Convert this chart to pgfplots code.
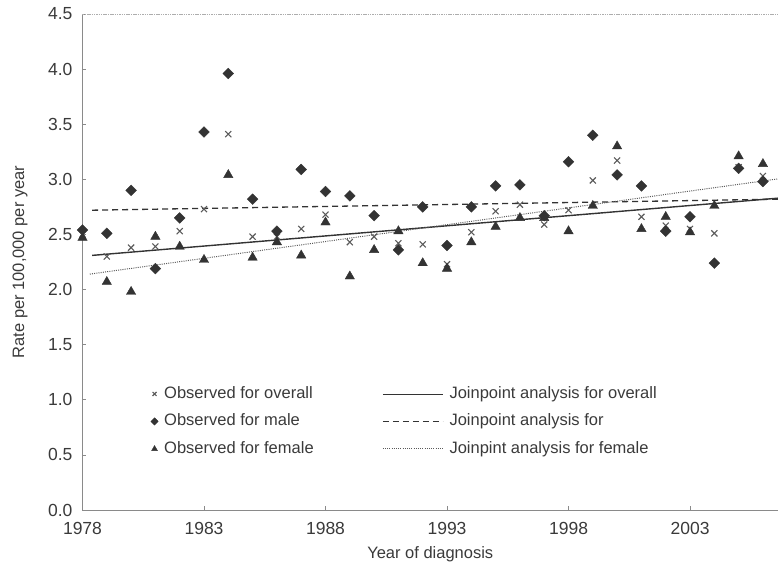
\documentclass[border=0pt]{standalone}
\usepackage{fontspec}
\setmainfont{Liberation Sans}
\usepackage{pgfplots}
\usepackage{pgfplotstable}
\pgfplotsset{compat=1.18}
\definecolor{ink}{HTML}{3A3A3A}
\definecolor{markdark}{HTML}{333333}
\definecolor{markgray}{HTML}{5A5A5A}
\definecolor{axisgray}{HTML}{8A8A8A}

\pgfplotsset{
  markleg/.style={legend image code/.code={\draw[##1, mark size=#1] plot coordinates {(0bp,0bp)};}},
  lineleg/.style={legend image code/.code={\draw[##1, #1] (0bp,0bp) -- (60bp,0bp);}},
}

\pgfplotstableread{
year overall male female
1978 2.50 2.54 2.47
1979 2.30 2.51 2.07
1980 2.38 2.90 1.98
1981 2.39 2.19 2.48
1982 2.53 2.65 2.39
1983 2.73 3.43 2.27
1984 3.41 3.96 3.04
1985 2.48 2.82 2.29
1986 2.48 2.53 2.43
1987 2.55 3.09 2.31
1988 2.68 2.89 2.61
1989 2.43 2.85 2.12
1990 2.48 2.67 2.36
1991 2.42 2.36 2.53
1992 2.41 2.75 2.24
1993 2.23 2.40 2.19
1994 2.52 2.75 2.43
1995 2.71 2.94 2.57
1996 2.77 2.95 2.65
1997 2.59 2.67 2.65
1998 2.72 3.16 2.53
1999 2.99 3.40 2.76
2000 3.17 3.04 3.30
2001 2.66 2.94 2.55
2002 2.58 2.53 2.66
2003 2.55 2.66 2.52
2004 2.51 2.24 2.76
2005 3.11 3.10 3.21
2006 3.03 2.98 3.14
}\rates

\begin{document}
\begin{tikzpicture}
\begin{axis}[
  scale only axis,
  width=695.5bp, height=496bp,
  xmin=1978, xmax=2006.62,
  ymin=0, ymax=4.5,
  clip=false,
  axis x line*=bottom,
  axis y line*=left,
  axis line style={axisgray, line width=0.8bp},
  xtick={1978,1983,1988,1993,1998,2003},
  xticklabels={1978,1983,1988,1993,1998,2003},
  ytick={0,0.5,1,1.5,2,2.5,3,3.5,4,4.5},
  yticklabels={0.0,0.5,1.0,1.5,2.0,2.5,3.0,3.5,4.0,4.5},
  x tick style={axisgray, line width=0.6bp},
  y tick style={axisgray, line width=0.6bp},
  major tick length=4bp,
  tick align=inside,
  tick label style={font=\fontsize{17.5bp}{20bp}\selectfont, text=ink},
  xticklabel style={yshift=-9bp},
  yticklabel style={xshift=-6.5bp},
  xlabel={Year of diagnosis},
  ylabel={Rate per 100,000 per year},
  label style={font=\fontsize{16.5bp}{19bp}\selectfont, text=ink},
  xlabel style={at={(axis description cs:0.5,0)}, anchor=center, yshift=-44bp},
  ylabel style={at={(axis description cs:0,0.5)}, anchor=center, yshift=62.5bp},
  legend columns=3,
  transpose legend,
  legend cell align=left,
  legend style={
    draw=none, fill=none,
    at={(rel axis cs:0.098,0.25)}, anchor=north west,
    font=\fontsize{16.5bp}{19bp}\selectfont,
    text=ink,
    inner sep=0pt,
    column sep=6bp,
    row sep=12bp,
    nodes={inner sep=0pt, text height=12bp, text depth=3.5bp},
  },
]
\draw[axisgray!70, line width=0.8bp, dash pattern=on 1.5bp off 0.8bp]
  (rel axis cs:0,1) -- (rel axis cs:1,1);

\addplot[only marks, mark=x, mark size=4.3bp, draw=markgray, line width=1.1bp, markleg=2.8bp]
  table[x=year, y=overall] {\rates};
\addlegendentry{\makebox[212bp][l]{Observed for overall}}

\addplot[only marks, mark=square*, mark options={rotate=45}, mark size=3.8bp,
  draw=markdark, fill=markdark, markleg=2.6bp]
  table[x=year, y=male] {\rates};
\addlegendentry{\makebox[212bp][l]{Observed for male}}

\addplot[only marks, mark=triangle*, mark size=5.4bp, draw=markdark, fill=markdark, markleg=3.4bp]
  table[x=year, y=female] {\rates};
\addlegendentry{\makebox[212bp][l]{Observed for female}}

\addplot[markdark, line width=1.4bp, no marks, lineleg={line width=0.8bp}]
  coordinates {(1978.4,2.31) (2006.62,2.829)};
\addlegendentry{Joinpoint analysis for overall}

\addplot[markdark, line width=1.3bp, no marks, dash pattern=on 6bp off 4bp, lineleg={}]
  coordinates {(1978.4,2.72) (2006.62,2.82)};
\addlegendentry{Joinpoint analysis for}

\addplot[markgray, line width=1bp, no marks, dash pattern=on 1bp off 1.2bp, lineleg={}]
  coordinates {(1978.3,2.14) (2006.62,3.004)};
\addlegendentry{Joinpint analysis for female}
\end{axis}
\pgfresetboundingbox
\path[use as bounding box] ([xshift=-82.5bp, yshift=-57bp]current axis.south west)
  rectangle ([yshift=14bp]current axis.north east);
\end{tikzpicture}
\end{document}
